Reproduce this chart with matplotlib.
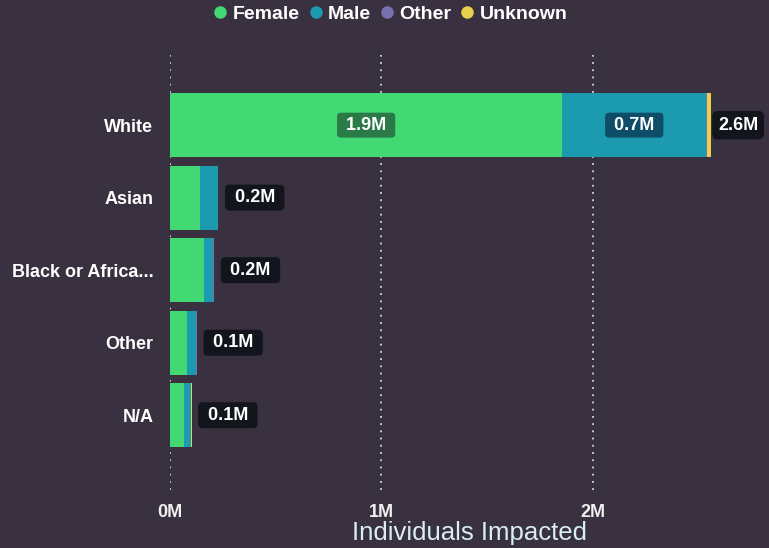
import matplotlib.pyplot as plt
from matplotlib.lines import Line2D

races = ['White', 'Asian', 'Black or Africa...', 'Other', 'N/A']
female = [1.855, 0.14, 0.16, 0.08, 0.065]
male = [0.68, 0.085, 0.045, 0.045, 0.035]
other = [0.003, 0.002, 0.002, 0.001, 0.001]
unknown = [0.02, 0.002, 0.002, 0.001, 0.001]
xticks = [0, 1, 2]
xtick_labels = ['0M', '1M', '2M']

bg = '#3a3140'
colors = {'Female': '#42d873', 'Male': '#1c9ab0', 'Other': '#7a72b0', 'Unknown': '#e6d24c'}

plt.rcParams['font.family'] = ['Liberation Sans', 'DejaVu Sans']

fig = plt.figure(figsize=(7.69, 5.48), dpi=100, facecolor=bg)
ax = fig.add_axes([0.221, 0.106, 0.779, 0.794], facecolor=bg)

y = list(range(len(races)))
left = [0.0] * len(races)
for name, vals in [('Female', female), ('Male', male), ('Other', other), ('Unknown', unknown)]:
    ax.barh(y, vals, left=left, height=0.88, color=colors[name], zorder=3)
    left = [l + v for l, v in zip(left, vals)]

lbl = dict(color='white', fontsize=13, fontweight='bold', zorder=5)

# segment labels (only where the segment is wide enough)
for i in range(len(races)):
    if female[i] > 0.5:
        ax.text(female[i] / 2, i, f' {female[i]:.1f}M ', ha='center', va='center',
                bbox=dict(boxstyle='round,pad=0.22', fc='#2a7a48', ec='none'), **lbl)
    if male[i] > 0.5:
        ax.text(female[i] + male[i] / 2, i, f' {male[i]:.1f}M ', ha='center', va='center',
                bbox=dict(boxstyle='round,pad=0.22', fc='#0e4d68', ec='none'), **lbl)

# totals - the long bar gets a tighter box so it stays inside the visual
for i, tot in enumerate(left):
    if tot > 2.3:
        txt, off, pad = f'{tot:.1f}M', 5, 0.32
    else:
        txt, off, pad = f' {tot:.1f}M ', 8, 0.25
    ax.annotate(txt, xy=(tot, i), xytext=(off, 0), textcoords='offset points',
                ha='left', va='center',
                bbox=dict(boxstyle=f'round,pad={pad}', fc='#12151b', ec='none'), **lbl)

ax.set_xlim(0, 2.832)
ax.set_ylim(5.03, -0.97)
ax.set_yticks(y)
ax.set_yticklabels(races, color='white', fontsize=13, fontweight='bold')
ax.set_xticks(xticks)
ax.set_xticklabels(xtick_labels, color='#f0f0f0', fontsize=13, fontweight='bold')
ax.tick_params(length=0)
ax.tick_params(axis='x', pad=10)
ax.tick_params(axis='y', pad=12)
ax.grid(axis='x', color='#d8d8d8', linestyle=(0, (1, 3)), linewidth=1.3, zorder=1)
for s in ax.spines.values():
    s.set_visible(False)
ax.set_xlabel('Individuals Impacted', color='#d8eef0', fontsize=18.5, labelpad=0)

handles = [Line2D([], [], marker='o', linestyle='none', markersize=9,
                  markerfacecolor=c, markeredgecolor='none') for c in colors.values()]
fig.legend(handles, list(colors.keys()), loc='center', bbox_to_anchor=(0.506, 0.9745),
           ncol=4, frameon=False, handletextpad=0.15, columnspacing=0.3, handlelength=1.0,
           prop={'size': 14, 'weight': 'bold'}, labelcolor='white')

fig.savefig('out.png', dpi=100, facecolor=bg)
